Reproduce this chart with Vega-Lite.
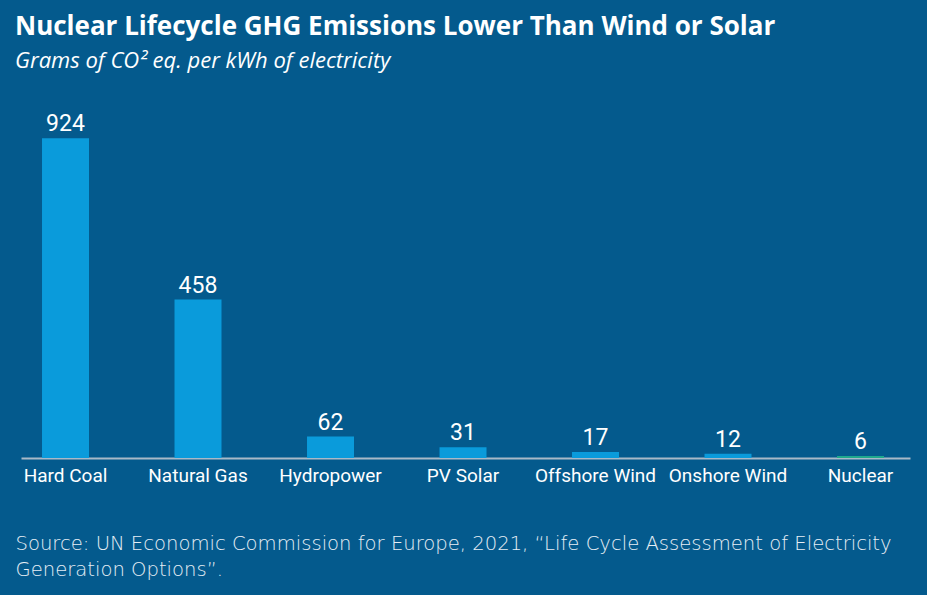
{
  "$schema": "https://vega.github.io/schema/vega-lite/v6.json",
  "autosize": "none",
  "width": 889,
  "height": 346,
  "padding": {"left": 21, "top": 112, "right": 17, "bottom": 137},
  "background": "#045a8d",
  "title": {
    "text": "Nuclear Lifecycle GHG Emissions Lower Than Wind or Solar",
    "subtitle": "Grams of CO² eq. per kWh of electricity",
    "anchor": "start",
    "frame": "group",
    "dx": -6,
    "offset": 40,
    "font": "Open Sans",
    "fontSize": 26,
    "fontWeight": "bold",
    "color": "#ffffff",
    "subtitleFont": "Open Sans",
    "subtitleFontSize": 22,
    "subtitleFontStyle": "italic",
    "subtitleColor": "#ffffff",
    "subtitlePadding": 11
  },
  "data": {
    "values": [
      {"source": "Hard Coal", "value": 924, "group": "other"},
      {"source": "Natural Gas", "value": 458, "group": "other"},
      {"source": "Hydropower", "value": 62, "group": "other"},
      {"source": "PV Solar", "value": 31, "group": "other"},
      {"source": "Offshore Wind", "value": 17, "group": "other"},
      {"source": "Onshore Wind", "value": 12, "group": "other"},
      {"source": "Nuclear", "value": 6, "group": "nuclear"}
    ]
  },
  "config": {"view": {"stroke": null}},
  "encoding": {
    "x": {
      "field": "source",
      "type": "nominal",
      "sort": null,
      "scale": {"paddingInner": 0.6453, "paddingOuter": 0.1774, "align": 0.447},
      "axis": {
        "title": ["Source: UN Economic Commission for Europe, 2021, “Life Cycle Assessment of Electricity", "Generation Options”."],
        "titleFont": "DejaVu Sans",
        "titleFontSize": 19.6,
        "titleFontWeight": 300,
        "titleColor": "#e6eef5",
        "titleAnchor": "start",
        "titleAlign": "left",
        "titleX": -6,
        "titlePadding": 49,
        "titleLineHeight": 26,
        "labelAngle": 0,
        "labelFont": "Roboto",
        "labelFontSize": 19,
        "labelColor": "#ffffff",
        "labelPadding": 8,
        "ticks": false,
        "domainColor": "#a9b9c8",
        "domainWidth": 2,
        "grid": false
      }
    },
    "y": {
      "field": "value",
      "type": "quantitative",
      "scale": {"domain": [0, 1000]},
      "axis": null
    }
  },
  "layer": [
    {
      "mark": {"type": "bar"},
      "encoding": {
        "color": {
          "field": "group",
          "type": "nominal",
          "scale": {"domain": ["other", "nuclear"], "range": ["#0a9bdb", "#1fa98d"]},
          "legend": null
        }
      }
    },
    {
      "mark": {"type": "text", "baseline": "bottom", "dy": -2, "font": "Roboto", "fontSize": 23, "fontWeight": 400, "color": "#ffffff"},
      "encoding": {"text": {"field": "value", "type": "quantitative"}}
    }
  ]
}
